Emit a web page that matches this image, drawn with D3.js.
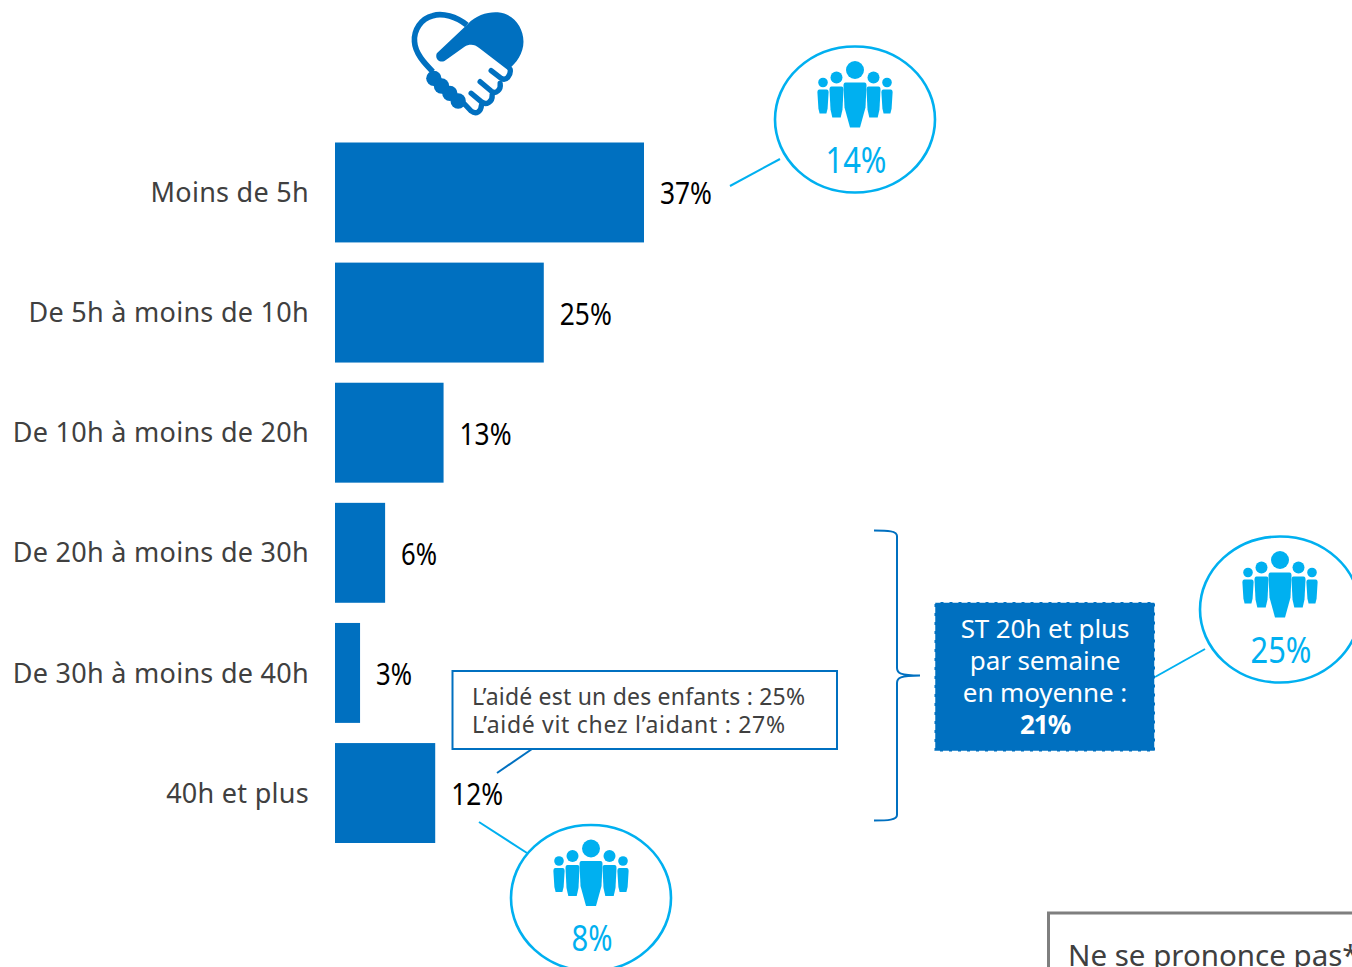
<!DOCTYPE html>
<html lang="fr">
<head>
<meta charset="UTF-8">
<title>Temps d'aide par semaine</title>
<script src="https://cdn.jsdelivr.net/npm/d3@7"></script>
<style>
  html, body { margin: 0; padding: 0; background: #fff; overflow: hidden; }
  svg { display: block; }
  text { font-family: "Noto Sans", sans-serif; }
</style>
</head>
<body>
<svg id="chart" width="1352" height="967"></svg>
<script>
// chart values
const categories = ["Moins de 5h", "De 5h à moins de 10h", "De 10h à moins de 20h",
  "De 20h à moins de 30h", "De 30h à moins de 40h", "40h et plus"];
const values = [37, 25, 13, 6, 3, 12];
const subtotalLines = ["ST 20h et plus", "par semaine", "en moyenne :"];
const subtotalValue = 21;
const noteLines = ["L’aidé est un des enfants : 25%", "L’aidé vit chez l’aidant : 27%"];
const calloutValues = [14, 25, 8];

const blue = "#0070c0", cyan = "#00b0f0", grey = "#404040";
const svg = d3.select("#chart");

const x = d3.scaleLinear().domain([0, 37]).range([335, 644]);
const y = d3.scaleBand().domain(categories).range([142.5, 843]).paddingInner(0.168);

// bars
svg.append("g").selectAll("rect").data(values).join("rect")
  .attr("x", x(0))
  .attr("y", (d, i) => y(categories[i]))
  .attr("width", d => x(d) - x(0))
  .attr("height", y.bandwidth())
  .attr("fill", blue);

// category labels
const yAxis = svg.append("g")
  .attr("transform", `translate(${x(0)},1)`)
  .call(d3.axisLeft(y).tickSize(0).tickPadding(26));
yAxis.select(".domain").remove();
yAxis.selectAll("text")
  .style("font-family", '"Noto Sans", sans-serif')
  .style("letter-spacing", "0.28px")
  .attr("font-size", 27).attr("fill", grey);

// value labels, squeezed a bit because the original font is narrower
svg.append("g").selectAll("text").data(values).join("text")
  .attr("x", d => x(d) + 16)
  .attr("y", (d, i) => y(categories[i]) + y.bandwidth() / 2 + 12)
  .attr("font-size", 30).attr("fill", "#000")
  .attr("textLength", d => d >= 10 ? 52 : 36).attr("lengthAdjust", "spacingAndGlyphs")
  .text(d => d + "%");

// heart / handshake icon, drawn in zoomed crop units
const heart = svg.append("g").attr("transform", "translate(389.5,0) scale(0.3333)");
heart.append("path")
  .attr("d", "M235 72 C260 45 295 35 325 37 C370 40 402 80 402 125 C402 160 380 190 355 210 L270 145 C255 132 240 132 225 140 L165 183 C150 190 135 175 142 160 Z")
  .attr("fill", blue);
heart.append("path")
  .attr("d", "M232 75 C200 50 160 38 130 47 C95 55 72 90 75 125 C77 160 105 190 130 215")
  .attr("fill", "none").attr("stroke", blue).attr("stroke-width", 17);
heart.selectAll("circle").data([[133, 235], [156, 258], [181, 280], [206, 303]]).join("circle")
  .attr("cx", d => d[0]).attr("cy", d => d[1]).attr("r", 23).attr("fill", blue);
heart.selectAll("path.finger").data([
  "M225 312 L245 333 C260 345 275 335 276 315",
  "M245 280 L275 305 C290 318 310 305 308 285",
  "M272 245 L305 273 C320 285 335 268 332 250",
  "M305 212 L335 235 C350 245 365 225 362 208"
]).join("path").attr("class", "finger")
  .attr("d", d => d)
  .attr("fill", "none").attr("stroke", blue).attr("stroke-width", 16).attr("stroke-linecap", "round");

// group of people inside a callout
function people(g) {
  const body = (w1, w2, top, waist, bottom) =>
    `M${-w1 + 2} ${top} L${w1 - 2} ${top} Q${w1} ${top} ${w1} ${top + 3} L${w1 - 1} ${waist} L${w2} ${bottom} L${-w2} ${bottom} L${-w1 + 1} ${waist} L${-w1} ${top + 3} Q${-w1} ${top} ${-w1 + 2} ${top} Z`;
  [[-32, 4.8, -37, 5.6, 3.4, -30, -11, -6], [32, 4.8, -37, 5.6, 3.4, -30, -11, -6],
   [-18.5, 6, -42, 7, 4.2, -33, -10, -2], [18.5, 6, -42, 7, 4.2, -33, -10, -2],
   [0, 9, -49.5, 11.5, 5, -37, -12, 8]].forEach(p => {
    g.append("circle").attr("cx", p[0]).attr("cy", p[2]).attr("r", p[1]).attr("fill", cyan);
    g.append("path").attr("transform", `translate(${p[0]},0)`)
      .attr("d", body(p[3], p[4], p[5], p[6], p[7])).attr("fill", cyan);
  });
}

// callout bubbles
const bubbles = [[855, 119.5], [1280, 609.5], [591, 898]];
calloutValues.forEach((v, i) => {
  const g = svg.append("g").attr("transform", `translate(${bubbles[i]})`);
  g.append("ellipse").attr("rx", 80).attr("ry", 73)
    .attr("fill", "#fff").attr("stroke", cyan).attr("stroke-width", 2.6);
  people(g);
  g.append("text").attr("x", 1).attr("y", 53).attr("text-anchor", "middle")
    .attr("font-size", 36).attr("fill", cyan)
    .attr("textLength", v >= 10 ? 61 : 41).attr("lengthAdjust", "spacingAndGlyphs")
    .text(v + "%");
});

// connector lines
const line = (a, b, c, d, col) => svg.append("line")
  .attr("x1", a).attr("y1", b).attr("x2", c).attr("y2", d)
  .attr("stroke", col).attr("stroke-width", 2);
line(730, 186, 780, 159, cyan);
line(1155, 677, 1205, 649, cyan);
line(479, 822, 527, 853, cyan);
line(497, 773, 532, 749, blue);

// bracket
svg.append("path")
  .attr("d", "M874 530.5 C888 530.5 897 531 897 536 L897 668 C897 673 900 675.5 920 675.5 C900 675.5 897 678 897 683 L897 815 C897 820 888 820.5 874 820.5")
  .attr("fill", "none").attr("stroke", blue).attr("stroke-width", 2);

// subtotal box
svg.append("rect").attr("x", 934.5).attr("y", 602).attr("width", 220.5).attr("height", 149.5)
  .attr("fill", blue).attr("stroke", "#fff").attr("stroke-width", 1.5).attr("stroke-dasharray", "6 3");
svg.append("g").selectAll("text").data(subtotalLines.concat(subtotalValue + "%")).join("text")
  .attr("x", 1045).attr("y", (d, i) => 638 + i * 32)
  .attr("text-anchor", "middle").attr("fill", "#fff").attr("font-size", 26)
  .attr("font-weight", (d, i) => i === 3 ? "bold" : "normal")
  .style("letter-spacing", (d, i) => i === 3 ? "-1px" : "-0.1px")
  .text(d => d);

// note box
svg.append("rect").attr("x", 452.5).attr("y", 671).attr("width", 384.5).attr("height", 78)
  .attr("fill", "#fff").attr("stroke", blue).attr("stroke-width", 2);
const noteWidths = [333, 313];
svg.append("g").selectAll("text").data(noteLines).join("text")
  .attr("x", 472).attr("y", (d, i) => 705 + i * 28)
  .attr("textLength", (d, i) => noteWidths[i]).attr("lengthAdjust", "spacing")
  .attr("fill", grey).attr("font-size", 23).text(d => d);

// cut-off box at the bottom right
svg.append("path").attr("d", "M1048.5 967 L1048.5 913 L1352 913")
  .attr("fill", "none").attr("stroke", "#7f7f7f").attr("stroke-width", 3);
svg.append("text").attr("x", 1068).attr("y", 966)
  .attr("fill", grey).attr("font-size", 29.5).text("Ne se prononce pas*");
</script>
</body>
</html>
